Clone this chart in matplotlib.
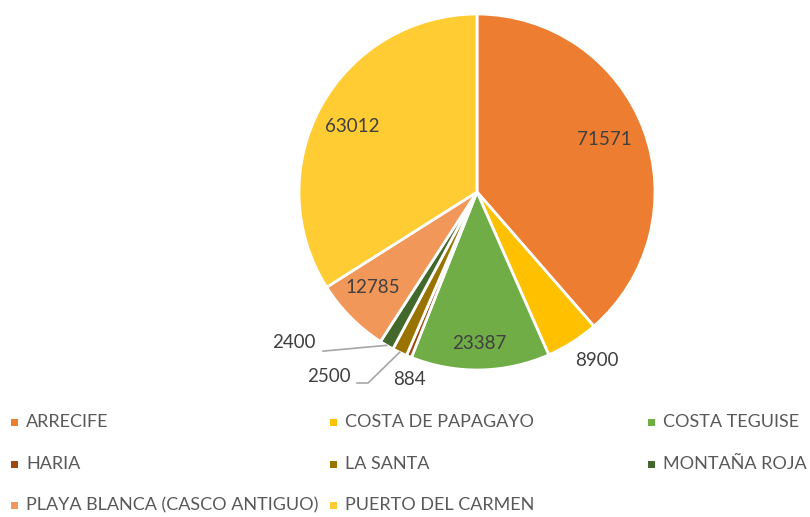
import numpy as np
import matplotlib.pyplot as plt
from matplotlib.patches import Rectangle

plt.rcParams['font.family'] = ['Lato', 'DejaVu Sans']

zones = ['ARRECIFE', 'COSTA DE PAPAGAYO', 'COSTA TEGUISE', 'HARIA', 'LA SANTA',
         'MONTAÑA ROJA', 'PLAYA BLANCA (CASCO ANTIGUO)', 'PUERTO DEL CARMEN']
visitors = [71571, 8900, 23387, 884, 2500, 2400, 12785, 63012]
colors = ['#ED7D31', '#FFC000', '#70AD47', '#9E480E', '#997300',
          '#43682B', '#F1975A', '#FFCD33']

# label placement: (radius, angle nudge in degrees) for labels on the slice,
# (text position, leader points) for the two thin slices with leader lines
label_pos = [
    (0.773, 2.1),
    (1.16, 3.1),
    (0.854, -0.3),
    (1.117, 2.7),
    ((-0.708, -1.039), [(-0.674, -1.073), (-0.612, -1.073)]),
    ((-0.904, -0.848), [(-0.865, -0.894)]),
    (0.795, -2.1),
    (0.79, 1.3),
]

W, H = 810, 517
fig = plt.figure(figsize=(W / 100, H / 100), dpi=100)
R = 178.0
cx, cy = 477, H - 192
ax = fig.add_axes([(cx - 250) / W, 100 / H, 500 / W, (H - 100) / H])

wedges, _ = ax.pie(visitors, colors=colors, startangle=90, counterclock=False,
                   wedgeprops=dict(edgecolor='white', linewidth=2))
ax.set_xlim(-250 / R, 250 / R)
ax.set_ylim((100 - cy) / R, (H - cy) / R)
ax.set_aspect('equal')

txt = '#404040'
for w, val, pos in zip(wedges, visitors, label_pos):
    mid = np.deg2rad((w.theta1 + w.theta2) / 2)
    if isinstance(pos[0], float):
        r, nudge = pos
        a = mid + np.deg2rad(nudge)
        ax.text(r * np.cos(a), r * np.sin(a), str(val), ha='center',
                va='center', fontsize=13.5, color=txt)
    else:
        (tx, ty), leader = pos
        pts = leader + [(np.cos(mid), np.sin(mid))]
        ax.plot([p[0] for p in pts], [p[1] for p in pts],
                color='#A6A6A6', lw=1.2)
        ax.text(tx, ty, str(val), ha='right', va='center',
                fontsize=13.5, color=txt)

# legend, three entries per row
col_x = [11, 330, 648]
row_y = [422, 464, 505]
for i, (name, c) in enumerate(zip(zones, colors)):
    row, col = divmod(i, 3)
    x = col_x[col]
    y = H - row_y[row]
    fig.patches.append(Rectangle((x / W, (y - 3.5) / H), 7 / W, 7 / H,
                                 facecolor=c, edgecolor='none',
                                 transform=fig.transFigure, figure=fig))
    fig.text((x + 15) / W, y / H, name, ha='left', va='center',
             fontsize=13, color='#595959')

fig.savefig('out.png', dpi=100)
